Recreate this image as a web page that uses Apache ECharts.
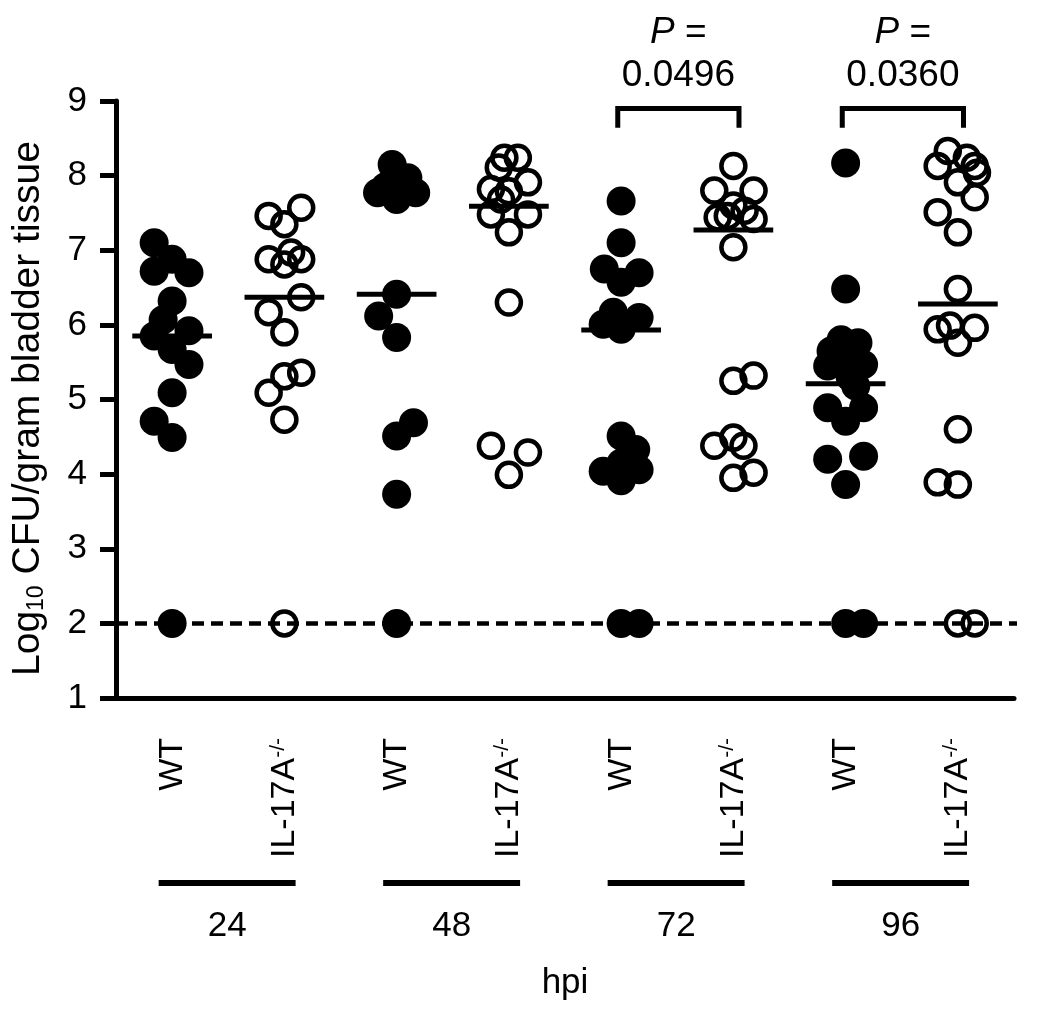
<!DOCTYPE html>
<html>
<head>
<meta charset="utf-8">
<script src="https://cdn.jsdelivr.net/npm/echarts@6/dist/echarts.min.js"></script>
<style>
  html, body { margin: 0; padding: 0; background: #fff; }
  #chart { width: 1050px; height: 1012px; }
</style>
</head>
<body>
<div id="chart"></div>
<script>
const FONT = '"Liberation Sans", Arial, Helvetica, sans-serif';

// genotype under each tick, time points (hpi) under the pairs
const groupLabels = ['WT', 'IL-17A{sup|-/-}', 'WT', 'IL-17A{sup|-/-}', 'WT', 'IL-17A{sup|-/-}', 'WT', 'IL-17A{sup|-/-}'];
const hours = ['24', '48', '72', '96'];

// log10 CFU per gram. *Jitter = sideways spread in category widths
const wt24 = [7.10, 6.88, 6.72, 6.70, 6.32, 6.07, 5.92, 5.85, 5.67, 5.47, 5.09, 4.71, 4.49, 2.0];
const wt24Jitter = [-0.16, 0, -0.16, 0.15, 0, -0.08, 0.15, -0.16, 0, 0.15, 0, -0.16, 0, 0];
const ko24 = [7.57, 7.46, 7.35, 6.97, 6.88, 6.88, 6.81, 6.37, 6.17, 5.90, 5.36, 5.31, 5.09, 4.73, 2.0];
const ko24Jitter = [0.15, -0.14, 0, 0.06, -0.14, 0.15, 0, 0.15, -0.14, 0, 0.15, 0, -0.14, 0, 0];

const wt48 = [8.15, 7.97, 7.85, 7.77, 7.77, 7.68, 6.41, 6.12, 5.83, 4.69, 4.51, 3.73, 2.0];
const wt48Jitter = [-0.04, 0.1, -0.1, -0.17, 0.17, 0, 0, -0.16, 0, 0.15, 0, 0, 0];
const ko48 = [8.24, 8.24, 8.11, 7.91, 7.82, 7.79, 7.68, 7.48, 7.48, 7.24, 6.30, 4.38, 4.29, 3.99];
const ko48Jitter = [-0.04, 0.08, -0.09, 0.17, -0.16, 0, -0.07, -0.16, 0.17, 0, 0, -0.16, 0.17, 0];

const wt72 = [7.66, 7.10, 6.75, 6.70, 6.57, 6.17, 6.10, 6.01, 5.94, 4.51, 4.33, 4.15, 4.06, 4.04, 3.91, 2.0, 2.0];
const wt72Jitter = [0, 0, -0.15, 0.16, 0, -0.07, 0.16, -0.16, 0, 0, 0.13, 0, 0.16, -0.16, 0, 0, 0.16];
const ko72 = [8.13, 7.80, 7.80, 7.60, 7.53, 7.46, 7.44, 7.42, 7.04, 5.32, 5.25, 4.49, 4.38, 4.38, 4.02, 3.95];
const ko72Jitter = [0, -0.17, 0.18, 0, 0.1, -0.05, -0.14, 0.18, 0, 0.18, 0, 0, -0.17, 0.09, 0.18, 0];

const wt96 = [8.17, 6.48, 5.80, 5.76, 5.65, 5.54, 5.45, 5.47, 5.30, 5.18, 4.89, 4.89, 4.71, 4.24, 4.20, 3.86, 2.0, 2.0];
const wt96Jitter = [0, 0, -0.04, 0.11, -0.13, 0, -0.16, 0.16, 0.04, 0.09, -0.16, 0.16, 0, 0.16, -0.16, 0, 0, 0.16];
const ko96 = [8.33, 8.24, 8.13, 8.13, 8.04, 7.91, 7.71, 7.51, 7.24, 6.48, 5.99, 5.96, 5.94, 5.76, 4.60, 3.89, 3.86, 2.0, 2.0];
const ko96Jitter = [-0.09, 0.08, -0.18, 0.15, 0.17, 0, 0.15, -0.18, 0, 0, -0.07, 0.15, -0.18, 0, 0, -0.18, 0, 0, 0.15];

// horizontal bar per group (median)
const medians = [5.85, 6.37, 6.41, 7.59, 5.93, 7.27, 5.21, 6.28];
const detectionLimit = 2;

// significance brackets: group pairs and P values
const pPairs = [[4, 5], [6, 7]];
const pLabels = ['0.0496', '0.0360'];

function toPoints(groupIdx, vals, jitter) {
  return vals.map((v, i) => [groupIdx + 0.5 + jitter[i], v]);
}

const wtPoints = [].concat(
  toPoints(0, wt24, wt24Jitter),
  toPoints(2, wt48, wt48Jitter),
  toPoints(4, wt72, wt72Jitter),
  toPoints(6, wt96, wt96Jitter)
);
const koPoints = [].concat(
  toPoints(1, ko24, ko24Jitter),
  toPoints(3, ko48, ko48Jitter),
  toPoints(5, ko72, ko72Jitter),
  toPoints(7, ko96, ko96Jitter)
);

const chart = echarts.init(document.getElementById('chart'), null, { renderer: 'canvas' });

const option = {
  animation: false,
  backgroundColor: '#fff',
  grid: { left: 116, right: 36, top: 101, bottom: 314, containLabel: false },
  xAxis: [
    {
      type: 'category',
      data: groupLabels,
      boundaryGap: true,
      axisLine: { lineStyle: { color: '#000', width: 5 } },
      axisTick: { alignWithLabel: true, length: 18, lineStyle: { color: '#000', width: 5 } },
      axisLabel: {
        rotate: 90,
        margin: 40,
        interval: 0,
        color: '#000',
        fontFamily: FONT,
        fontSize: 34,
        rich: {
          sup: { fontSize: 21, fontFamily: FONT, color: '#000', verticalAlign: 'top' }
        }
      },
      name: 'hpi',
      nameLocation: 'middle',
      nameGap: 268,
      nameTextStyle: { color: '#000', fontFamily: FONT, fontSize: 35 },
      splitLine: { show: false }
    },
    { type: 'value', min: 0, max: 8, show: false }
  ],
  yAxis: {
    type: 'value',
    min: 1,
    max: 9,
    interval: 1,
    axisLine: { show: true, lineStyle: { color: '#000', width: 5 } },
    axisTick: { show: true, length: 16, lineStyle: { color: '#000', width: 5 } },
    axisLabel: { margin: 29, color: '#000', fontFamily: FONT, fontSize: 35 },
    splitLine: { show: false },
    name: '{a|Log}{sub|10}{a| CFU/gram bladder tissue}',
    nameLocation: 'middle',
    nameGap: 68,
    nameTextStyle: {
      color: '#000',
      padding: [0, 18, 0, 0],
      rich: {
        a: { fontSize: 39, fontFamily: FONT, color: '#000' },
        sub: { fontSize: 23, fontFamily: FONT, color: '#000', verticalAlign: 'bottom' }
      }
    }
  },
  series: [
    {
      // limit of detection
      type: 'line',
      xAxisIndex: 1,
      data: [[0, detectionLimit], [8.12, detectionLimit]],
      symbol: 'none',
      lineStyle: { color: '#000', width: 4.5, type: [12, 7] },
      clip: false,
      silent: true,
      z: 1
    },
    {
      type: 'scatter',
      xAxisIndex: 1,
      data: wtPoints,
      symbol: 'circle',
      symbolSize: 29,
      itemStyle: { color: '#000', opacity: 1 },
      z: 2
    },
    {
      type: 'scatter',
      xAxisIndex: 1,
      data: koPoints,
      symbol: 'circle',
      symbolSize: 24,
      itemStyle: { color: 'rgba(0,0,0,0)', borderColor: '#000', borderWidth: 4.5, opacity: 1 },
      z: 3
    },
    {
      // median bars
      type: 'custom',
      xAxisIndex: 1,
      data: medians.map((m, i) => [i + 0.5, m]),
      encode: { x: 0, y: 1 },
      clip: false,
      z: 4,
      renderItem: (params, api) => {
        const x = api.value(0);
        const y = api.value(1);
        const a = api.coord([x - 0.355, y]);
        const b = api.coord([x + 0.355, y]);
        return {
          type: 'line',
          shape: { x1: a[0], y1: a[1], x2: b[0], y2: b[1] },
          style: { stroke: '#000', lineWidth: 5 }
        };
      }
    },
    {
      // significance brackets with P values
      type: 'custom',
      xAxisIndex: 1,
      data: pPairs.map(([a, b], k) => [a + 0.5, b + 0.5, k]),
      encode: { x: [0, 1] },
      clip: false,
      z: 5,
      renderItem: (params, api) => {
        const k = api.value(2);
        const lx = api.coord([api.value(0) - 0.03, 8.9])[0];
        const rx = api.coord([api.value(1) + 0.05, 8.9])[0];
        const top = api.coord([0, 8.9])[1];
        const foot = api.coord([0, 8.64])[1];
        const mid = (lx + rx) / 2;
        return {
          type: 'group',
          children: [
            {
              type: 'polyline',
              shape: { points: [[lx, foot], [lx, top], [rx, top], [rx, foot]] },
              style: { stroke: '#000', lineWidth: 5, fill: null, lineJoin: 'miter' }
            },
            {
              type: 'text',
              style: {
                text: '{i|P} =',
                x: mid,
                y: api.coord([0, 9.92])[1],
                align: 'center',
                verticalAlign: 'middle',
                fontSize: 37,
                fontFamily: FONT,
                fill: '#000',
                rich: { i: { fontStyle: 'italic', fontSize: 37, fontFamily: FONT, fill: '#000' } }
              }
            },
            {
              type: 'text',
              style: {
                text: pLabels[k],
                x: mid,
                y: api.coord([0, 9.34])[1],
                align: 'center',
                verticalAlign: 'middle',
                fontSize: 37,
                fontFamily: FONT,
                fill: '#000'
              }
            }
          ]
        };
      }
    },
    {
      // hpi group bars under the axis
      type: 'custom',
      xAxisIndex: 1,
      data: hours.map((h, i) => [2 * i + 0.5, 2 * i + 1.5, i]),
      encode: { x: [0, 1] },
      clip: false,
      z: 5,
      renderItem: (params, api) => {
        const cs = params.coordSys;
        const lx = api.coord([api.value(0) - 0.12, 1])[0];
        const rx = api.coord([api.value(1) + 0.1, 1])[0];
        const y = cs.y + cs.height + 185;
        return {
          type: 'group',
          children: [
            {
              type: 'line',
              shape: { x1: lx, y1: y, x2: rx, y2: y },
              style: { stroke: '#000', lineWidth: 6 }
            },
            {
              type: 'text',
              style: {
                text: hours[api.value(2)],
                x: (lx + rx) / 2,
                y: y + 43,
                align: 'center',
                verticalAlign: 'middle',
                fontSize: 35,
                fontFamily: FONT,
                fill: '#000'
              }
            }
          ]
        };
      }
    }
  ]
};

chart.setOption(option);
</script>
</body>
</html>
